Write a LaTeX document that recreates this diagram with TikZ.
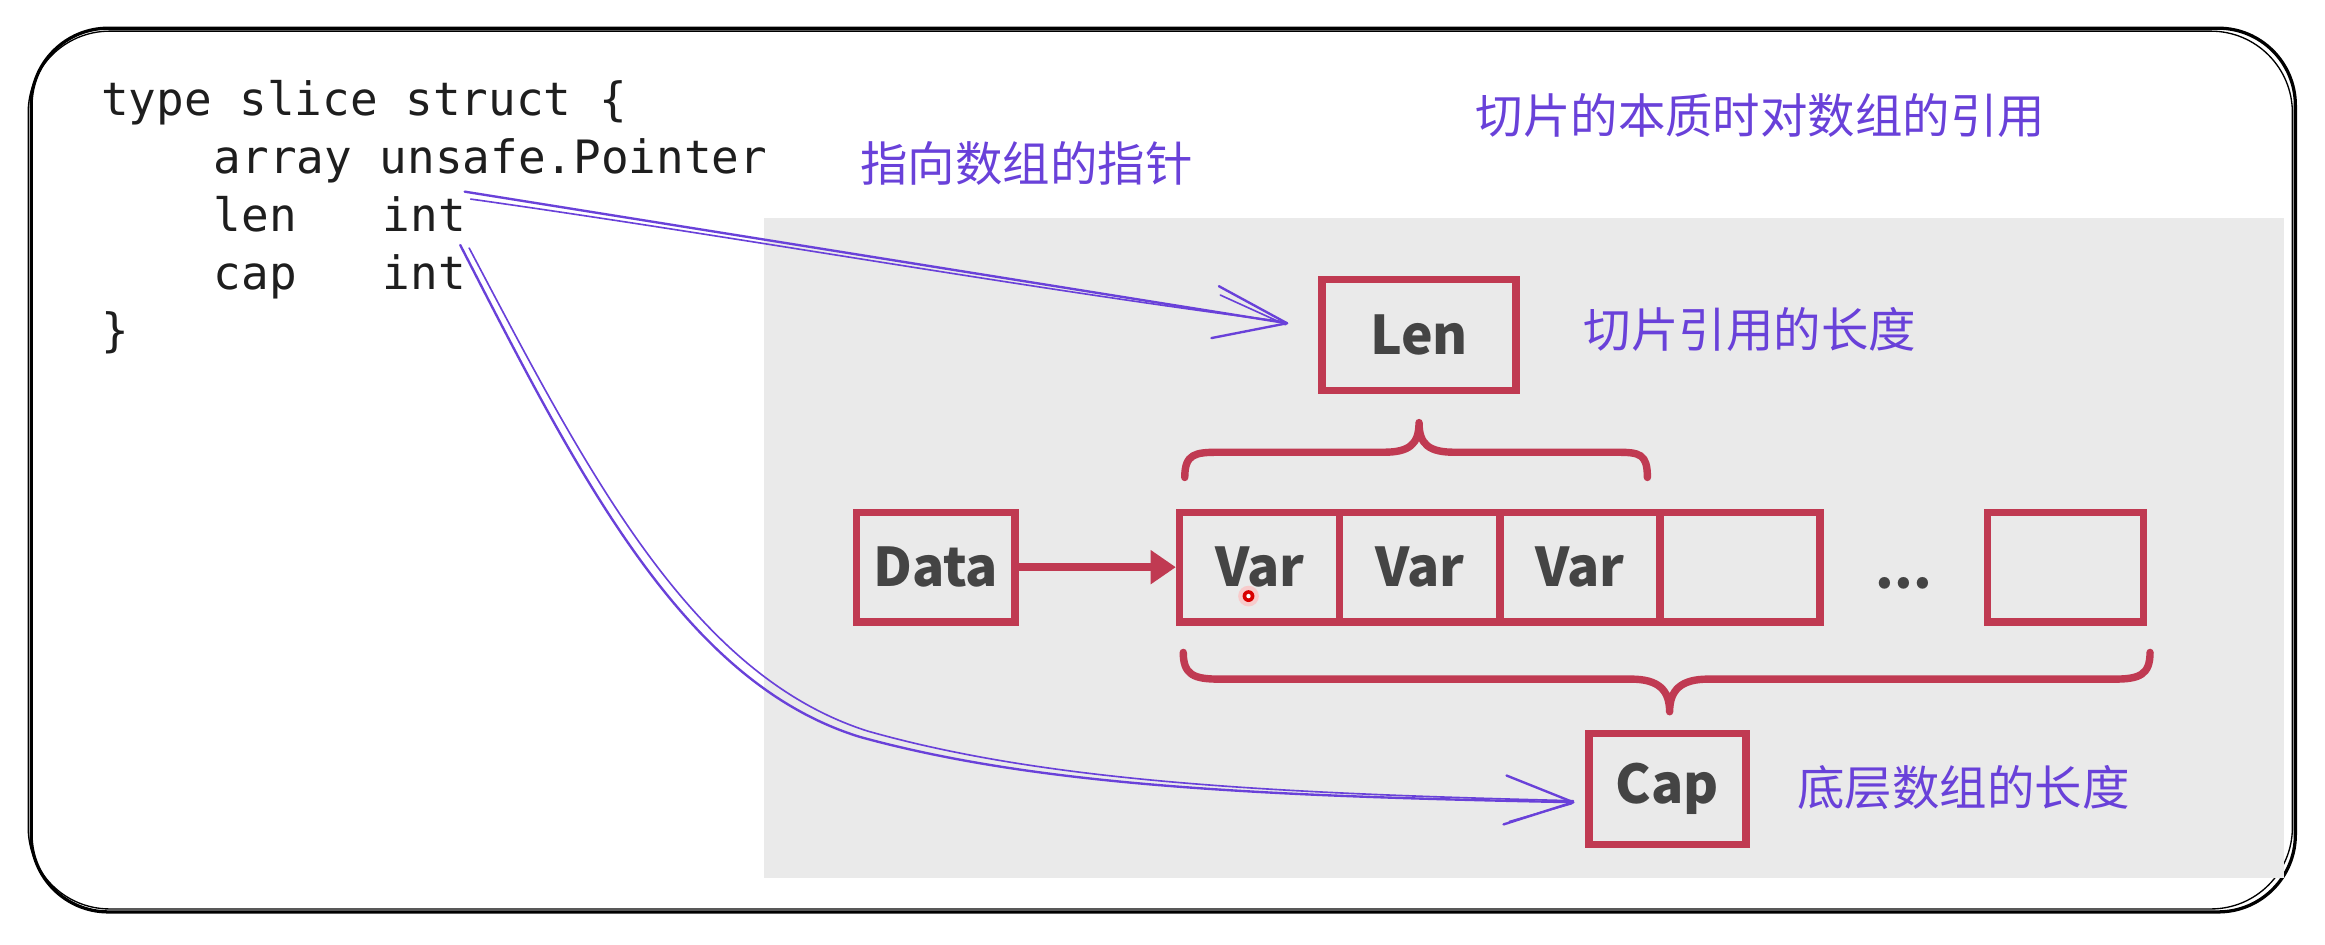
\documentclass[tikz,border=0pt]{standalone}
\usepackage{fontspec}
\usetikzlibrary{arrows.meta,calc}
\newfontfamily\codefont{DejaVu Sans Mono}
\newfontfamily\cjkfont{Noto Sans CJK SC}
\definecolor{redbox}{RGB}{192,58,82}
\definecolor{boxtext}{RGB}{68,68,68}
\definecolor{graybg}{RGB}{234,234,234}
\definecolor{violet}{RGB}{105,65,217}
\definecolor{ink}{RGB}{30,30,30}
\tikzset{
  code/.style={anchor=base west, inner sep=0pt, text=ink, font=\codefont\fontsize{31}{39}\selectfont},
  note/.style={anchor=west, inner sep=0pt, text=violet, font=\cjkfont\fontsize{32}{36}\selectfont},
  rbox/.style={draw=redbox, line width=5pt, inner sep=0pt, text=boxtext, font=\cjkfont\bfseries\fontsize{36}{40}\selectfont},
  brace/.style={draw=redbox, line width=5pt, line cap=round, line join=round},
  sketch/.style={draw=violet, line width=1.6pt, line cap=round, line join=round},
  sketchthin/.style={draw=violet, line width=1.1pt, line cap=round, line join=round},
  border/.style={draw=black, line width=2.2pt, rounded corners=52pt},
}
\begin{document}
\begin{tikzpicture}[x=1pt,y=-1pt]
\useasboundingbox (0,0) rectangle (1568,637.3);
% outer frame
\draw[border] (21,19) rectangle (1548,615);
\draw[draw=black, line width=0.9pt, rounded corners=55pt] (19,21) rectangle (1546,613);
% gray background
\fill[graybg] (515,147) rectangle (1540,592);
% code
\node[code] (c1) at (68,78) {type slice struct \{};
\node[code] (c2) at (144,117) {array unsafe.Pointer};
\node[code] (c3a) at (144,156) {len};
\node[code] (c3b) at (258,156) {int};
\node[code] (c4a) at (144,195) {cap};
\node[code] (c4b) at (258,195) {int};
\node[code] (c5) at (68,234) {\}};
% notes
\node[note] (t1) at (995,78) {切片的本质时对数组的引用};
\node[note] (t2) at (580,110) {指向数组的指针};
\node[note] (t3) at (1068,222) {切片引用的长度};
\node[note] (t4) at (1212,531) {底层数组的长度};
% red boxes
\node[rbox, minimum width=131pt, minimum height=75pt] (len) at (957,226) {Len};
\node[rbox, minimum width=107pt, minimum height=74pt] (data) at (631,382.5) {Data};
\node[rbox, minimum width=108pt, minimum height=74pt] (v1) at (849.5,382.5) {Var};
\node[rbox, minimum width=108pt, minimum height=74pt] (v2) at (957.5,382.5) {Var};
\node[rbox, minimum width=108pt, minimum height=74pt] (v3) at (1065.5,382.5) {Var};
\node[rbox, minimum width=108pt, minimum height=74pt] (v4) at (1173.5,382.5) {};
\node[anchor=base, inner sep=0pt, text=boxtext, font=\cjkfont\bfseries\fontsize{36}{40}\selectfont] (dots) at (1284,397) {...};
\node[rbox, minimum width=105pt, minimum height=74pt] (last) at (1393,382.5) {};
\node[rbox, minimum width=106pt, minimum height=75pt] (cap) at (1124.5,532) {Cap};
% data arrow
\draw[draw=redbox, line width=5pt, -{Triangle[length=17pt,width=22pt]}] (data.east) -- (v1.west);
% braces
\draw[brace] (799,322) .. controls (799,306) and (806,305) .. (822,305) -- (933,305)
  .. controls (950,305) and (957,300) .. (957,285)
  .. controls (957,300) and (964,305) .. (981,305) -- (1090,305)
  .. controls (1106,305) and (1111,306) .. (1111,322);
\draw[brace] (798,440) .. controls (798,455) and (805,458) .. (822,458) -- (1100,458)
  .. controls (1118,458) and (1126,465) .. (1126,480)
  .. controls (1126,465) and (1134,458) .. (1152,458) -- (1426,458)
  .. controls (1443,458) and (1450,455) .. (1450,440);
% cursor dot
\fill[red!25, opacity=0.7] (842,402) circle (7pt);
\fill[red!85!black] (842,402) circle (4pt);
\fill[white] (842,402) circle (1.5pt);
% purple arrows
\coordinate (a1s) at ($(c3b.north east)+(-1,-3)$);
\coordinate (a1t) at ($(len.west)+(-21,-8)$);
\coordinate (a2s) at ($(c4b.north east)+(-4,-6)$);
\coordinate (a2t) at ($(cap.west)+(-8,9)$);
\draw[sketch] (a1s) -- (a1t);
\draw[sketchthin] ($(a1s)+(4,5)$) .. controls (500,160) and (700,196) .. ($(a1t)+(-2,-1)$);
\draw[sketch] (a1t) -- ++(-46,-25);
\draw[sketch] (a1t) -- ++(-51,10);
\draw[sketchthin] ($(a1t)+(-1,1)$) -- ++(-44,-20);
\draw[sketch] (a2s) .. controls (390,320) and (460,460) .. (580,497) .. controls (700,530) and (850,537) .. (a2t);
\draw[sketchthin] ($(a2s)+(6,2)$) .. controls (396,318) and (466,455) .. (585,493) .. controls (705,527) and (855,535) .. ($(a2t)+(0,-1)$);
\draw[sketch] (a2t) -- ++(-45,-18);
\draw[sketch] (a2t) -- ++(-47,15);
\draw[sketchthin] ($(a2t)+(-1,1)$) -- ++(-42,12);
\end{tikzpicture}
\end{document}
